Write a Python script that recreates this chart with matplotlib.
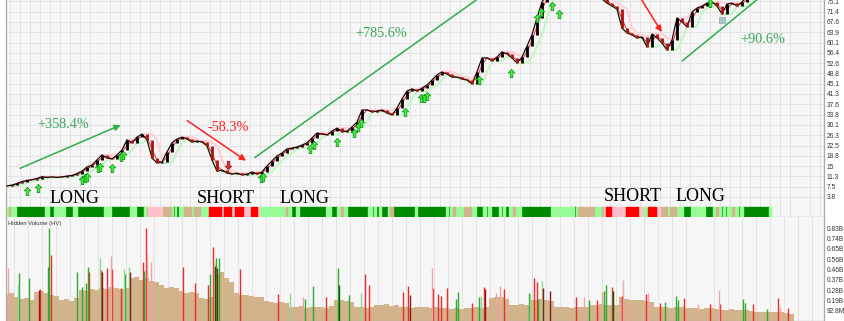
import numpy as np
import pandas as pd
import matplotlib
matplotlib.use("Agg")
import matplotlib.pyplot as plt
from matplotlib.path import Path

# ── Data (bar numbers run left to right, one close sampled every 5 bars) ──
first_bar = 7
bar_step = 5
close = [
    7.8, 8.1, 8.7, 9.4, 9.8, 10.1, 10.5, 11.2, 10.9, 11.1,
    10.9, 11.1, 11.4, 11.6, 12.3, 13.2, 14.7, 15.4, 17.3, 19.1,
    18.0, 17.6, 19.1, 20.9, 24.6, 23.5, 25.6, 26.7, 24.6, 18.0,
    16.2, 16.5, 20.2, 23.5, 24.9, 25.6, 24.9, 23.8, 24.2, 23.8,
    22.4, 17.3, 13.2, 13.6, 12.5, 12.1, 12.5, 11.8, 12.1, 12.9,
    12.1, 12.9, 15.1, 16.9, 18.7, 19.8, 21.3, 21.6, 22.0, 22.7,
    23.5, 25.3, 27.1, 26.7, 26.4, 27.8, 28.9, 27.5, 27.8, 29.3,
    31.1, 35.5, 35.5, 34.8, 35.1, 35.5, 34.4, 33.7, 36.2, 39.5,
    42.4, 43.2, 42.4, 43.5, 44.6, 46.4, 48.3, 49.4, 48.6, 47.5,
    47.5, 46.8, 46.4, 45.0, 49.4, 54.5, 54.5, 53.4, 54.8, 56.7,
    55.9, 54.5, 52.6, 54.8, 58.8, 62.9, 69.1, 74.9, 77.5, 78.5,
    77.8, 76.7, 78.5, 79.3, 80.0, 79.3, 78.5, 77.8, 77.1, 76.0,
    74.5, 73.4, 72.3, 65.4, 63.6, 62.9, 61.8, 62.1, 58.5, 63.2,
    61.8, 59.9, 57.4, 61.0, 69.1, 67.6, 65.8, 71.2, 72.7, 73.4,
    74.5, 74.9, 73.4, 70.5, 74.2, 74.5, 73.4, 74.9, 77.1, 77.8,
    78.5, 78.9, 79.3, 78.5, 78.9, 79.6, 80.0, 80.0,
]

# volume (millions), same sampling as close
volume = [
    230, 250, 220, 200, 210, 190, 260, 270, 250, 235,
    225, 190, 200, 180, 210, 280, 270, 290, 275, 300,
    290, 305, 295, 290, 300, 385, 400, 370, 390, 360,
    350, 320, 300, 310, 295, 270, 255, 260, 250, 210,
    200, 215, 420, 440, 390, 350, 250, 235, 230, 225,
    220, 215, 180, 175, 165, 170, 160, 130, 125, 135,
    120, 128, 125, 130, 120, 135, 190, 185, 180, 170,
    130, 125, 120, 130, 145, 140, 150, 138, 145, 125,
    130, 120, 128, 125, 130, 120, 128, 115, 120, 110,
    118, 112, 120, 115, 122, 118, 125, 210, 220, 215,
    200, 145, 140, 150, 145, 185, 190, 195, 185, 180,
    130, 125, 128, 120, 125, 130, 128, 140, 145, 150,
    140, 148, 145, 215, 195, 190, 185, 190, 180, 175,
    130, 125, 128, 120, 125, 122, 118, 115, 120, 112,
    118, 115, 110, 100, 98, 105, 95, 100, 97, 92,
    85, 80, 82, 78, 85, 80, 75, 60,
]

# hidden-volume spikes: bar, volume (millions), colour code
spike_bar = [8, 18, 19, 29, 39, 40, 48, 49, 51, 77, 82, 86, 88, 89, 100, 101, 102,
             107, 111, 112, 121, 124, 125, 129, 130, 143, 144, 146, 147, 151, 183,
             195, 208, 210, 213, 214, 215, 216, 217, 219, 240, 278, 290, 303, 305,
             313, 326, 338, 339, 349, 361, 365, 369, 403, 408, 410, 432, 433, 438,
             441, 447, 456, 458, 472, 479, 481, 484, 485, 496, 500, 504, 529, 530,
             534, 537, 538, 542, 543, 550, 576, 584, 589, 597, 602, 604, 606, 612,
             613, 622, 623, 628, 646, 648, 660, 665, 676, 678, 684, 698, 710, 719,
             720, 743, 745, 753, 767, 778, 780, 788]
spike_vol = [475, 324, 430, 385, 279, 285, 489, 840, 595, 444, 309, 340, 489, 444, 565, 460, 440,
             480, 588, 470, 300, 468, 420, 489, 440, 534, 450, 840, 600, 534, 489,
             340, 324, 421, 669, 520, 500, 565, 480, 570, 468, 240, 252, 216, 200,
             315, 216, 475, 320, 234, 252, 423, 324, 264, 315, 230, 475, 295, 243,
             225, 295, 196, 259, 165, 219, 225, 304, 290, 250, 315, 286, 250, 240,
             385, 354, 200, 363, 300, 273, 219, 215, 189, 190, 264, 273, 324, 304,
             270, 225, 369, 175, 243, 250, 165, 170, 225, 190, 205, 150, 153, 279,
             150, 196, 160, 153, 105, 205, 130, 114]
spike_kind = "lhGGdrGGrGGGGrhrdrlrrhGhdrGrllrrrGrlkGdGrrhlGGrGkGhrrrrdlrrrrGGrGhrdllrGhrrGhddrlGrlGGrkrllrlrGGGrlrlrGGrGrlr"

# signal band: start bar of each segment, colour code, final bar
band_start = [7, 9, 10, 16, 45, 49, 54, 65, 73, 77, 104, 111, 130, 136, 144, 147, 148,
              152, 153, 162, 171, 173, 175, 176, 179, 183, 184, 191, 194, 200, 209,
              221, 224, 231, 235, 237, 238, 243, 251, 254, 255, 257, 259, 286, 287,
              291, 296, 299, 326, 331, 337, 341, 343, 347, 368, 372, 374, 376, 379,
              381, 388, 390, 393, 415, 417, 446, 448, 450, 453, 455, 464, 471, 476,
              483, 486, 488, 491, 499, 501, 503, 505, 509, 513, 515, 521, 551, 571,
              572, 574, 576, 578, 594, 602, 604, 606, 611, 626, 638, 642, 648, 656,
              660, 667, 670, 676, 683, 691, 705, 713, 716, 718, 721, 723, 725, 727,
              729, 730, 732, 734, 738, 740, 743, 769, 771, 783]
band_kind = ("gtgGgGgGgGgGgGgtptptgGgGgGtgtgRpRpRpRpRpRpgtgGgGgGgtgGgGgGgGgtGgGgGgtgtgGgGgGgGgGgtgG"
             "gGgGgtgtpRpRpgRptgtgGgGgtgGgGgGgtgGgGg")
band_end = 792

# buy / sell arrow markers (bar, price)
buy_bar = [27, 38, 82, 85, 87, 98, 100, 112, 121, 123, 261, 263, 310, 314, 337, 354, 358,
           361, 405, 421, 424, 427, 479, 511, 537, 541, 552, 559, 710]
buy_price = [6.1, 7.0, 10.0, 10.7, 11.2, 14.2, 14.8, 14.5, 18.5, 19.1, 10.6, 11.2, 21.2,
             22.7, 23.9, 27.0, 29.2, 30.9, 34.9, 39.8, 40.0, 40.6, 46.4, 48.9, 69.0,
             71.4, 73.4, 70.5, 74.4]
sell_bar, sell_price = [228], [15.4]
stop_bar, stop_price = [722], [68.3]

price_ticks = [3.76, 7.51, 11.27, 15.03, 18.79, 22.54, 26.30, 30.06, 33.81, 37.57,
               41.33, 45.08, 48.84, 52.60, 56.36, 60.11, 63.87, 67.63, 71.38, 75.14]
price_labels = ["3.8", "7.5", "11.3", "15", "18.8", "22.5", "26.3", "30.1", "33.8", "37.6",
                "41.3", "45.1", "48.8", "52.6", "56.4", "60.1", "63.9", "67.6", "71.4", "75.1"]
vol_ticks = [92.8, 185.6, 278.4, 371.2, 464.0, 556.8, 649.6, 742.4, 835.2]
vol_labels = ["92.8M", "0.19B", "0.28B", "0.37B", "0.46B", "0.56B", "0.65B", "0.74B", "0.83B"]

# ── Styling ───────────────────────────────────────────────────────────────
bg = "#f6f6f6"
grid_c = "#e3e3e3"
frame_c = "#a9a9a9"
band_colors = {"G": "#008a00", "g": "#98fb98", "t": "#d2b48c", "p": "#ffc0cb", "R": "#ff0000"}
spike_colors = {"r": "#ee2a2a", "l": "#f4a3a3", "G": "#2ea82e", "h": "#8fd88f",
                "d": "#8b1a1a", "k": "#006400"}
up_green = "#2fae4a"
serif = ["Liberation Serif", "DejaVu Serif"]

fig = plt.figure(figsize=(8.45, 3.21), dpi=100)
W, H = 845.0, 321.0
ax = fig.add_axes([6 / W, 104 / H, 818 / W, 217 / H])
axv = fig.add_axes([6 / W, 0, 818 / W, 104 / H])

bars = np.arange(len(close)) * bar_step + first_bar
s = pd.Series(close)

for a in (ax, axv):
    a.set_facecolor(bg)
    a.set_xlim(6, 824)
    for side in ("left", "right", "top", "bottom"):
        a.spines[side].set_color(frame_c)
        a.spines[side].set_linewidth(0.9)
    a.tick_params(axis="x", which="both", bottom=False, labelbottom=False)
    a.yaxis.tick_right()
    a.tick_params(axis="y", length=0, pad=2, labelsize=4.8, labelcolor="#333333")
ax.spines["top"].set_visible(False)
axv.spines["top"].set_visible(False)

# main panel
ax.set_ylim(-3.54, 75.62)
ax.set_yticks(price_ticks)
ax.set_yticklabels(price_labels, family="Liberation Sans")
ax.set_xticks(np.arange(10, 824, 10), minor=True)
ax.grid(True, axis="y", color=grid_c, linewidth=0.7)
ax.grid(True, axis="x", which="minor", color=grid_c, linewidth=0.7)
ax.set_axisbelow(True)

ax.plot(bars, s.rolling(3, min_periods=1).max(), color="#ffd0d6", lw=1.6, zorder=2)
ax.plot(bars, s.rolling(3, min_periods=1).min(), color="#c8f5c8", lw=1.6, zorder=2)
ax.plot(bars, s.rolling(2, min_periods=1).mean(), color="#e03030", lw=0.7, zorder=3)
ax.plot(bars, close, color="black", lw=0.8, zorder=4)

# candle bodies from the previous close to the current close
prev = s.shift(1).fillna(s)
rising = s >= prev
ax.vlines(bars[rising], prev[rising], s[rising], color="black", lw=2.0, zorder=4)
ax.vlines(bars[~rising], prev[~rising], s[~rising], color="#b01010", lw=2.0, zorder=4)

# signal band
edges = band_start + [band_end]
for code, col in band_colors.items():
    segs = [(a, b - a) for a, b, k in zip(edges[:-1], edges[1:], band_kind) if k == code]
    ax.broken_barh(segs, (-3.45, 3.45), color=col, zorder=5)

# arrow markers
up = Path([(0, 1), (-0.8, 0.15), (-0.32, 0.15), (-0.32, -1), (0.32, -1), (0.32, 0.15),
           (0.8, 0.15), (0, 1)])
down = Path([(0, -1), (-0.8, -0.15), (-0.32, -0.15), (-0.32, 1), (0.32, 1), (0.32, -0.15),
             (0.8, -0.15), (0, -1)])
ax.plot(buy_bar, buy_price, ls="none", marker=up, ms=6, mfc="#3cf03c", mec="#148a14",
        mew=0.5, zorder=6)
ax.plot(sell_bar, sell_price, ls="none", marker=down, ms=6, mfc="#e03030", mec="#8a1414",
        mew=0.5, zorder=6)
ax.plot(stop_bar, stop_price, ls="none", marker="s", ms=4, mfc="#a9c9c9", mec="#88aaaa",
        mew=0.5, zorder=6)

# trend annotations
arw = dict(arrowstyle="-|>", mutation_scale=9, lw=1.1, shrinkA=0, shrinkB=0)
ax.annotate("", xy=(120.7, 30.0), xytext=(20, 14.2), arrowprops=dict(arw, color=up_green))
ax.annotate("", xy=(246, 17.0), xytext=(187.3, 31.6), arrowprops=dict(arw, color="#ff2020"))
ax.annotate("", xy=(661.7, 63.9), xytext=(635.5, 79.3), arrowprops=dict(arw, color="#ff2020"),
            annotation_clip=False)
ax.plot([255, 490], [18.2, 79.2], color=up_green, lw=1.1, zorder=6)
ax.plot([682.3, 770], [53.4, 79.6], color=up_green, lw=1.1, zorder=6)

ax.text(37, 28.8, "+358.4%", color="#3aa85a", fontsize=10.3, family=serif)
ax.text(208, 27.9, "-58.3%", color="#ff2020", fontsize=10.3, family=serif)
ax.text(355, 62.0, "+785.6%", color="#3aa85a", fontsize=10.3, family=serif)
ax.text(740, 59.8, "+90.6%", color="#3aa85a", fontsize=10.3, family=serif)

for x, y, t in [(75, 1.7, "LONG"), (226, 1.7, "SHORT"), (305, 1.7, "LONG"),
                (632.5, 2.3, "SHORT"), (701, 2.3, "LONG")]:
    ax.text(x, y, t, ha="center", va="baseline", fontsize=13, family=serif, color="black",
            zorder=7)

# volume panel
axv.set_ylim(0, 937)
axv.set_yticks(vol_ticks)
axv.set_yticklabels(vol_labels, family="Liberation Sans")
axv.set_xticks(np.arange(14, 824, 14), minor=True)
axv.grid(True, axis="x", which="minor", color=grid_c, linewidth=0.7)
axv.set_axisbelow(True)
axv.bar(bars, volume, width=bar_step, color="#d2b48c", linewidth=0, zorder=2)
for code, col in spike_colors.items():
    xs = [b for b, k in zip(spike_bar, spike_kind) if k == code]
    vs = [v for v, k in zip(spike_vol, spike_kind) if k == code]
    axv.vlines(xs, 0, vs, color=col, lw=1.0, zorder=3)
axv.text(8, 905, "Hidden Volume (HV)", fontsize=4.2, color="#333333",
         family="Liberation Sans", va="top")

fig.savefig("out.png", dpi=100)
